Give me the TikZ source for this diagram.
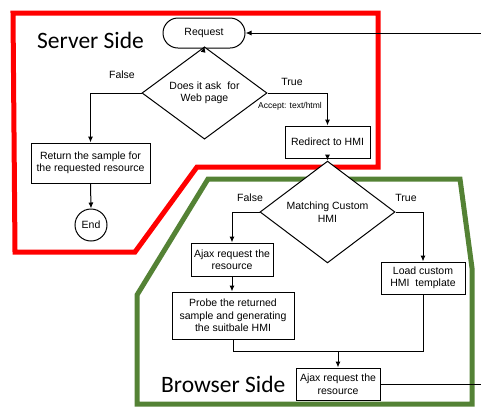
\documentclass[tikz,border=0pt]{standalone}
\usepackage{fontspec}
\setmainfont{Liberation Sans}
\newfontfamily\sidefont{Carlito}
\usetikzlibrary{arrows.meta,shapes.geometric}

\begin{document}
\begin{tikzpicture}[x=1pt,y=-1pt,
  every node/.style={font=\fontsize{10.5}{12.5}\selectfont},
  flow/.style={line width=1pt,black},
  arr/.style={flow,-{Latex[length=6pt,width=5pt]}},
  stepbox/.style={draw,line width=1pt,fill=white,inner sep=1pt,align=center},
  decision/.style={draw,line width=1pt,fill=white,diamond,inner sep=0pt,align=center},
  region/.style={line width=5pt,line join=miter},
  sidelabel/.style={font=\sidefont\fontsize{23.5}{26}\selectfont,anchor=base west,inner sep=0pt},
  branch/.style={font=\fontsize{10.5}{12.5}\selectfont},
]
\useasboundingbox (0,0) rectangle (481,408);
\definecolor{serverred}{RGB}{255,0,0}
\definecolor{browsergreen}{RGB}{84,130,53}

% side regions
\draw[region,serverred] (13,13) -- (378,13) -- (378,167) -- (197,167) -- (135,252) -- (15,252) -- cycle;
\draw[region,browsergreen] (208,179) -- (460,179) -- (472,268) -- (472,404) -- (137,404) -- (137,295) -- cycle;

\node[sidelabel] (server) at (37,48.5) {Server Side};
\node[sidelabel] (browser) at (161,392) {Browser Side};

% server side steps
\node[stepbox,rounded corners=15pt,minimum width=82pt,minimum height=30pt] (req) at (204,33) {Request};
\node[decision,minimum width=125pt,minimum height=60pt] (ask) at (204.5,93) {Does it ask\ \ for\\Web page};
\node[stepbox,minimum width=119pt,minimum height=40pt] (ret) at (90.5,163) {Return the sample for\\the requested resource};
\node[draw,circle,line width=1pt,fill=white,minimum size=32pt,inner sep=0pt] (end) at (91,225) {End};
\node[stepbox,minimum width=85pt,minimum height=32pt] (redir) at (327.5,142) {Redirect to HMI};

% browser side steps
\node[decision,minimum width=135pt,minimum height=60pt] (match) at (327.5,212) {Matching Custom\\HMI};
\node[stepbox,minimum width=82pt,minimum height=33pt] (ajaxa) at (232,259.5) {Ajax request the\\resource};
\node[stepbox,minimum width=84pt,minimum height=32pt] (load) at (423,278) {Load custom\\HMI\ \ template};
\node[stepbox,minimum width=122pt,minimum height=47pt] (probe) at (233,315.5) {Probe the returned\\sample and generating\\the suitbale HMI};
\node[stepbox,minimum width=84pt,minimum height=32pt] (ajaxb) at (338,384) {Ajax request the\\resource};

% branch labels
\node[branch] (f1) at (122,75) {False};
\node[branch] (t1) at (292,82) {True};
\node[font=\fontsize{8.5}{10}\selectfont] (acc) at (290,106) {Accept: text/html};
\node[branch] (f2) at (250,198) {False};
\node[branch] (t2) at (406,198) {True};

% connectors
\coordinate (in) at (481,33);
\coordinate (out) at (481,384);
\coordinate (join) at (338,351);
\draw[arr] (in) -- (req.east);
\draw[arr] (req.south) -- (ask.north);
\draw[arr] (ask.west) -| (ret.north);
\draw[arr] (ask.east) -| (redir.north);
\draw[arr] (ret.south) -- (end.north);
\draw[arr] (redir.south) -- (match.north);
\draw[arr] (match.west) -| (ajaxa.north);
\draw[arr] (match.east) -| (load.north);
\draw[arr] (ajaxa.south) -- (ajaxa.south |- probe.north);
\draw[flow] (probe.south) |- (join) -| (load.south);
\draw[arr] (join) -- (ajaxb.north);
\draw[flow] (ajaxb.east) -- (out);
\end{tikzpicture}
\end{document}
